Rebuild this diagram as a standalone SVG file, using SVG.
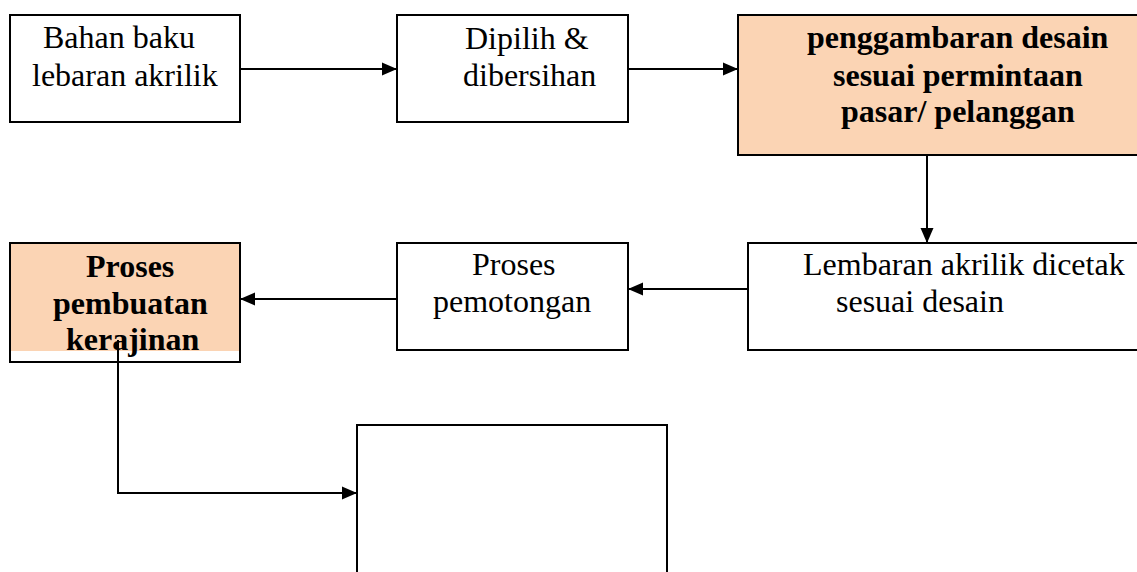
<svg xmlns="http://www.w3.org/2000/svg" width="1137" height="572" viewBox="0 0 1137 572">
<style>
.box{fill:#fff;stroke:#000;stroke-width:2}
.hl{fill:#FBD4B4}
.t{font-family:"Liberation Serif","Times New Roman",serif;font-size:32px;fill:#000}
.b{font-weight:bold}
.c{fill:none;stroke:#000;stroke-width:2}
</style>
<defs>
<marker id="ah" markerUnits="userSpaceOnUse" markerWidth="16" markerHeight="16" viewBox="0 0 16 16" refX="15" refY="8" orient="auto">
<path d="M0,1.5 L15,8 L0,14.5 Z" fill="#000"/>
</marker>
</defs>
<rect width="1137" height="572" fill="#fff"/>
<g id="n1">
<rect class="box" x="10" y="15" width="230" height="107"/>
<text class="t" x="43" y="48">Bahan baku</text>
<text class="t" x="32" y="86">lebaran akrilik</text>
</g>
<g id="n2">
<rect class="box" x="397" y="15" width="231" height="107"/>
<text class="t" x="465" y="49">Dipilih &amp;</text>
<text class="t" x="463" y="86">dibersihan</text>
</g>
<g id="n3">
<rect class="box" x="738" y="15" width="410" height="140" style="fill:#FBD4B4"/>
<text class="t b" x="807" y="48">penggambaran desain</text>
<text class="t b" x="833" y="86">sesuai permintaan</text>
<text class="t b" x="841" y="122">pasar/ pelanggan</text>
</g>
<g id="n4">
<rect class="box" x="10" y="243" width="230" height="119"/>
<rect class="hl" x="11" y="244" width="228" height="107"/>
<text class="t b" x="86" y="277">Proses</text>
<text class="t b" x="53" y="314">pembuatan</text>
<text class="t b" x="66" y="350">kerajinan</text>
</g>
<g id="n5">
<rect class="box" x="397" y="243" width="231" height="107"/>
<text class="t" x="472" y="275">Proses</text>
<text class="t" x="433" y="312">pemotongan</text>
</g>
<g id="n6">
<rect class="box" x="748" y="243" width="400" height="107"/>
<text class="t" x="803" y="275">Lembaran akrilik dicetak</text>
<text class="t" x="836" y="312">sesuai desain</text>
</g>
<g id="n7">
<rect class="box" x="357" y="425" width="310" height="160"/>
</g>
<g id="connectors">
<line class="c" x1="240" y1="69" x2="397" y2="69" marker-end="url(#ah)"/>
<line class="c" x1="628" y1="69" x2="738" y2="69" marker-end="url(#ah)"/>
<line class="c" x1="927" y1="155" x2="927" y2="243" marker-end="url(#ah)"/>
<line class="c" x1="748" y1="289" x2="628" y2="289" marker-end="url(#ah)"/>
<line class="c" x1="397" y1="299" x2="240" y2="299" marker-end="url(#ah)"/>
<path class="c" d="M118,340 V493 H357" marker-end="url(#ah)"/>
</g>
</svg>
